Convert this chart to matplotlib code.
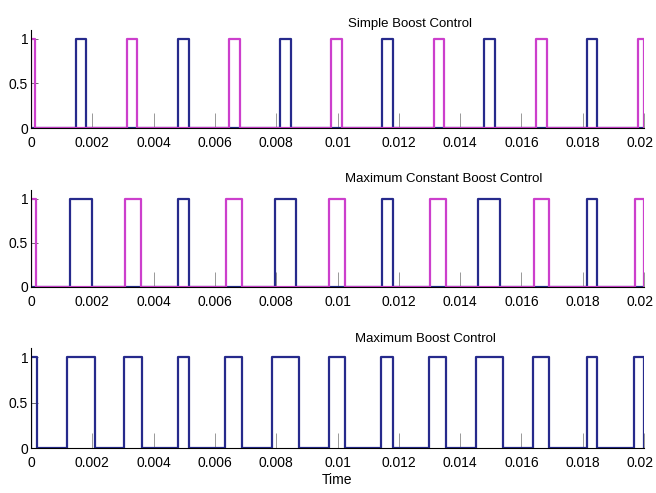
import numpy as np
import matplotlib.pyplot as plt
import matplotlib.transforms as mtransforms

plt.rcParams['font.family'] = ['Liberation Sans', 'DejaVu Sans']

# instants de montée / descente des impulsions (en ms)
simple_blue_on = [1.47, 4.79, 8.11, 11.46, 14.79, 18.13]
simple_blue_off = [1.79, 5.14, 8.48, 11.80, 15.14, 18.48]
simple_mag_on = [0.0, 3.13, 6.46, 9.79, 13.14, 16.47, 19.80]
simple_mag_off = [0.13, 3.46, 6.81, 10.15, 13.49, 16.82, 20.0]

const_blue_on = [1.27, 4.78, 7.95, 11.46, 14.60, 18.13]
const_blue_off = [1.98, 5.15, 8.63, 11.80, 15.31, 18.46]
const_mag_on = [0.0, 3.06, 6.35, 9.72, 13.03, 16.40, 19.71]
const_mag_off = [0.16, 3.59, 6.88, 10.23, 13.54, 16.91, 20.0]

max_blue_on = [0.0, 1.19, 3.04, 4.78, 6.34, 7.86, 9.71, 11.42, 13.00, 14.52, 16.38, 18.13, 19.67]
max_blue_off = [0.21, 2.08, 3.61, 5.15, 6.88, 8.73, 10.26, 11.80, 13.54, 15.39, 16.91, 18.48, 20.0]

titles = ['Simple Boost Control', 'Maximum Constant Boost Control', 'Maximum Boost Control']
title_pos = [(410, 27), (444, 182), (425, 342)]  # pixels (centre, ligne de base)
xtick_labels = ['0', '0.002', '0.004', '0.006', '0.008', '0.01',
                '0.012', '0.014', '0.016', '0.018', '0.02']

BLUE = '#262a8c'
MAGENTA = '#cc3fcc'
W, H = 656, 493


def pulses(on, off, t_end=20.0):
    """Construit un signal rectangulaire (t en s) à partir des fronts en ms."""
    t = [0.0]
    y = [0.0]
    for a, b in zip(on, off):
        t += [a, a, b, b]
        y += [0, 1, 1, 0]
    t.append(t_end)
    y.append(0)
    t = np.array(t) / 1000.0
    return t, np.array(y, dtype=float)


fig = plt.figure(figsize=(W / 100, H / 100), dpi=100)
rects = [(31, 30, 128), (31, 190, 287), (31, 348, 448)]
axes = []
for left, top, bottom in rects:
    ax = fig.add_axes([left / W, 1 - bottom / H, 613 / W, (bottom - top) / H])
    axes.append(ax)

series = [
    [(simple_blue_on, simple_blue_off, BLUE), (simple_mag_on, simple_mag_off, MAGENTA)],
    [(const_blue_on, const_blue_off, BLUE), (const_mag_on, const_mag_off, MAGENTA)],
    [(max_blue_on, max_blue_off, BLUE)],
]

for ax, sers, title, (tx, ty) in zip(axes, series, titles, title_pos):
    for on, off, col in sers:
        t, y = pulses(on, off)
        ax.plot(t, y, color=col, lw=1.6)
    ax.set_xlim(0, 0.02)
    ax.set_ylim(0, 1.1)
    ax.set_xticks(np.arange(0, 0.0201, 0.002))
    ax.set_xticklabels(xtick_labels)
    ax.set_yticks([0, 0.5, 1])
    ax.set_yticklabels(['0', '0.5', '1'])
    for s in ['top', 'right']:
        ax.spines[s].set_visible(False)
    for s in ['left', 'bottom']:
        ax.spines[s].set_linewidth(0.8)
    ax.tick_params(axis='x', direction='in', length=11, width=0.6, color='#888888',
                   pad=6, labelsize=10)
    ax.tick_params(axis='y', direction='in', length=5, width=0.6, color='#555555',
                   pad=2, labelsize=10)
    # dernier label collé au bord droit de la figure
    last = ax.get_xticklabels()[-1]
    last.set_ha('right')
    last.set_transform(last.get_transform() +
                       mtransforms.ScaledTranslation(10 / 100, 0, fig.dpi_scale_trans))
    fig.text(tx / W, 1 - ty / H, title, ha='center', va='baseline', fontsize=9.5)

axes[2].set_xlabel('Time', fontsize=10, labelpad=2)

fig.savefig('out.png', dpi=100)
